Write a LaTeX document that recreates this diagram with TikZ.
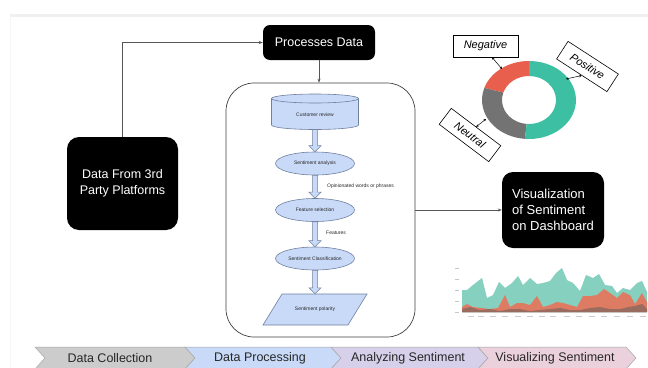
\documentclass[tikz,border=0pt]{standalone}
\usepackage{fontspec}
\setmainfont{Liberation Sans}
\usetikzlibrary{shapes.geometric,arrows.meta,calc}
\definecolor{boxblue}{HTML}{C9DAF8}
\definecolor{boxline}{HTML}{7080A0}
\definecolor{donteal}{HTML}{3DBFA3}
\definecolor{dongray}{HTML}{737373}
\definecolor{donred}{HTML}{E8604D}
\definecolor{chteal}{HTML}{86D0C0}
\definecolor{chred}{HTML}{DE7C63}
\definecolor{chdark}{HTML}{9A6B5F}
\definecolor{chevA}{HTML}{CCCCCC}
\definecolor{chevB}{HTML}{C9DAF8}
\definecolor{chevC}{HTML}{D6D0EA}
\definecolor{chevD}{HTML}{EBD1DC}
\definecolor{lineg}{HTML}{555555}
\tikzset{
 blackbox/.style={fill=black, text=white, font=\fontsize{12.5}{16}\selectfont, align=center, inner sep=0pt},
 conn/.style={draw=lineg, line width=0.6pt, -{Stealth[length=4pt,width=3pt]}},
 shapeb/.style={fill=boxblue, draw=boxline, line width=0.6pt},
 smalltxt/.style={font=\fontsize{5}{6}\selectfont, text=black!85, inner sep=0pt},
 ell/.style={ellipse, shapeb, minimum width=79pt, minimum height=23pt, inner sep=0pt, smalltxt},
 barrow/.style={fill=boxblue, draw=boxline, line width=0.5pt},
 lbl/.style={draw=black, fill=white, line width=0.6pt, font=\fontsize{11}{13}\selectfont\itshape, inner sep=0pt},
 lblconn/.style={draw=black, line width=0.5pt, {Stealth[length=2.5pt,width=2.5pt]}-{Stealth[length=2.5pt,width=2.5pt]}},
 chevtxt/.style={font=\fontsize{12.5}{15}\selectfont, text=black!85},
}
\newcommand{\blockarr}[2]{%
 \path[barrow] let \p1=(#1.south), \p2=(#2.north) in
 (\x1-2.5pt,\y1) -- (\x1-2.5pt,\y2+6pt) -- (\x1-6pt,\y2+6pt) -- (\x1,\y2)
 -- (\x1+6pt,\y2+6pt) -- (\x1+2.5pt,\y2+6pt) -- (\x1+2.5pt,\y1) -- cycle;}
\begin{document}
\begin{tikzpicture}[x=1pt,y=-1pt]
\useasboundingbox (0,0) rectangle (648,367);
\clip (0,0) rectangle (648,367);
\fill[white] (0,0) rectangle (648,367);
% top frame strip
\fill[gray!12] (10,13.5) rectangle (648,16.5);
\draw[gray!7, line width=1pt] (10.5,16) -- (10.5,367);

% black boxes
\node[blackbox, minimum width=112pt, minimum height=35pt, rounded corners=7pt] (pd) at (319,42.5) {Processes Data};
\node[blackbox, minimum width=111pt, minimum height=93pt, rounded corners=12pt] (dfp) at (122.5,183.5) {Data From 3rd\\Party Platforms};
\node[blackbox, align=left, minimum width=102pt, minimum height=76pt, rounded corners=11pt, font=\fontsize{13}{16}\selectfont] (vis) at (553,210) {Visualization\\of Sentiment\\on Dashboard};

% container
\node[draw=black!75, line width=0.7pt, rounded corners=28pt, minimum width=189pt, minimum height=254pt] (cont) at (320.5,210) {};

\draw[conn] (dfp.north) |- (pd.west);
\draw[conn] (pd.south) -- (pd.south |- cont.north);
\draw[conn] (cont.east) -- (vis.west);

% cylinder
\filldraw[shapeb] (271.5,98.5) -- (271.5,125) arc[start angle=180,end angle=360,x radius=43.5pt,y radius=4.5pt] -- (358.5,98.5) arc[start angle=0,end angle=180,x radius=43.5pt,y radius=4.5pt] -- cycle;
\draw[boxline, line width=0.6pt] (271.5,98.5) arc[start angle=180,end angle=360,x radius=43.5pt,y radius=4.5pt];
\node[smalltxt, minimum width=87pt, minimum height=29pt] (cr) at (315,115) {Customer review};

\node[ell] (sa) at (315,163.5) {Sentiment analysis};
\node[ell] (fs) at (315,210) {Feature selection};
\node[ell] (sc) at (315,258.5) {Sentiment Classification};
\filldraw[shapeb] (282,294) -- (367,294) -- (348,325) -- (263,325) -- cycle;
\node[smalltxt, minimum width=85pt, minimum height=31pt] (sp) at (315,309.5) {Sentiment polarity};

\blockarr{cr}{sa}
\blockarr{sa}{fs}
\blockarr{fs}{sc}
\blockarr{sc}{sp}

\node[smalltxt, anchor=west] (lw) at (327,186) {Opinionated words or phrases};
\node[smalltxt, anchor=west] (lf) at (326,233) {Features};

% donut
\coordinate (dc) at (529,100);
\fill[donred] ($(dc)+(90:47pt and 39pt)$) arc[start angle=90,end angle=162,x radius=47pt,y radius=39pt] -- ($(dc)+(162:27pt and 24pt)$) arc[start angle=162,end angle=90,x radius=27pt,y radius=24pt] -- cycle;
\fill[dongray] ($(dc)+(162:47pt and 39pt)$) arc[start angle=162,end angle=265,x radius=47pt,y radius=39pt] -- ($(dc)+(265:27pt and 24pt)$) arc[start angle=265,end angle=162,x radius=27pt,y radius=24pt] -- cycle;
\fill[donteal] ($(dc)+(265:47pt and 39pt)$) arc[start angle=265,end angle=450,x radius=47pt,y radius=39pt] -- ($(dc)+(450:27pt and 24pt)$) arc[start angle=450,end angle=265,x radius=27pt,y radius=24pt] -- cycle;

\node[lbl, minimum width=65pt, minimum height=22pt] (neg) at (485.5,46) {Negative};
\node[lbl, rotate=-33, minimum width=60pt, minimum height=21pt] (pos) at (587.5,66.5) {Positive};
\node[lbl, rotate=-37, minimum width=62pt, minimum height=20pt] (neu) at (470,135) {Neutral};
\coordinate (negp) at (502,69);
\coordinate (posp) at (566,79);
\coordinate (neup) at (486,119);
\draw[lblconn] (neg.-60) -- (negp);
\draw[lblconn] (pos.south) -- (posp);
\draw[lblconn] (neu.north) -- (neup);

% area chart
\draw[gray!25, line width=0.5pt] (462,312) -- (647,312);
\fill[chteal] (462,312) -- (462,290) -- (467,290) -- (473,285) -- (482,278) -- (487,298) -- (493,295) -- (499,282) -- (505,288) -- (512,283) -- (518,276) -- (523,285) -- (530,278) -- (537,284) -- (543,283) -- (550,281) -- (556,273) -- (562,268) -- (567,280) -- (573,283) -- (580,291) -- (586,275) -- (593,278) -- (599,274) -- (605,285) -- (612,286) -- (617,293) -- (623,288) -- (630,290) -- (637,283) -- (642,281) -- (647,292) -- (647,312) -- cycle;
\fill[chred] (462,312) -- (462,307) -- (467,304) -- (473,307) -- (482,308) -- (490,309) -- (498,308) -- (505,295) -- (510,307) -- (517,303) -- (523,303) -- (530,305) -- (537,296) -- (543,307) -- (550,305) -- (557,302) -- (563,303) -- (570,305) -- (577,307) -- (583,296) -- (590,296) -- (597,295) -- (604,289) -- (610,293) -- (617,298) -- (623,292) -- (630,295) -- (635,304) -- (642,293) -- (647,302) -- (647,312) -- cycle;
\fill[chdark] (462,312) -- (462,309) -- (470,307) -- (480,310) -- (490,309) -- (500,311) -- (510,309) -- (520,309) -- (530,311) -- (540,310) -- (550,309) -- (560,308) -- (570,310) -- (580,310) -- (590,308) -- (600,307) -- (610,309) -- (620,309) -- (628,307) -- (635,306) -- (642,304) -- (647,309) -- (647,312) -- cycle;
\foreach \yy in {268,279,290,301,312} \fill[gray!45] (455,\yy-0.5) rectangle (459,\yy+0.5);
\foreach \xx in {471,481,493,505,518,530,542,553,567,579,592,604,617,630,643} \draw[gray!40, line width=0.9pt] (\xx-3,316) -- (\xx+3,316);

% chevrons
\foreach \L/\R/\c in {35/185/chevA, 185/331/chevB, 331/478/chevC, 478/626/chevD}
 \filldraw[fill=\c, draw=gray!70, line width=0.5pt] (\L,347) -- (\R,347) -- (\R+10,358) -- (\R,369) -- (\L,369) -- (\L+10,358) -- cycle;
\node[chevtxt] (c1) at (110,358) {Data Collection};
\node[chevtxt] (c2) at (260,358) {Data Processing};
\node[chevtxt] (c3) at (408,358) {Analyzing Sentiment};
\node[chevtxt] (c4) at (555,358) {Visualizing Sentiment};
\end{tikzpicture}
\end{document}
